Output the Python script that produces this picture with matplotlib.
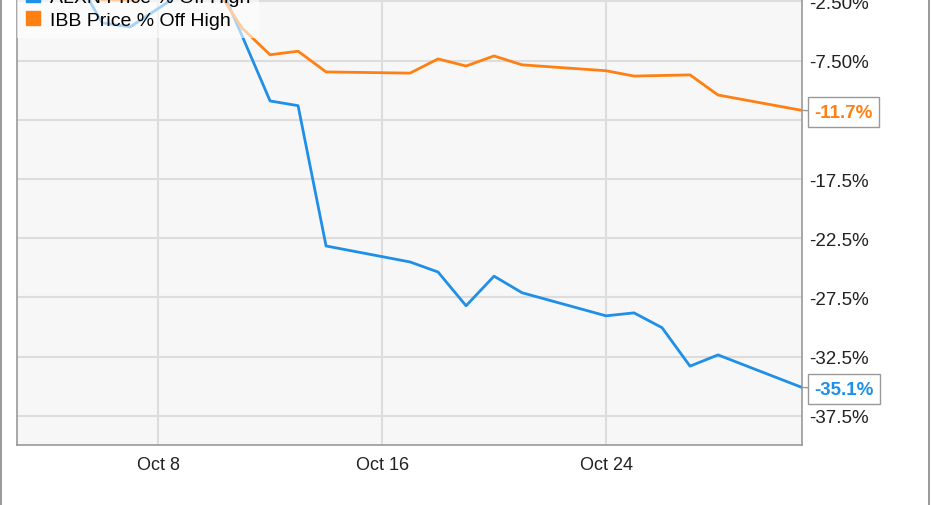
import matplotlib
matplotlib.use("Agg")
import matplotlib.pyplot as plt
import matplotlib.dates as mdates
import numpy as np
from matplotlib.lines import Line2D
from matplotlib.patches import Rectangle

plt.rcParams["font.family"] = ["Liberation Sans", "DejaVu Sans"]

# trading days, October 2016
dates = np.array([
    "2016-10-03", "2016-10-04", "2016-10-05", "2016-10-06", "2016-10-07",
    "2016-10-10", "2016-10-11", "2016-10-12", "2016-10-13", "2016-10-14",
    "2016-10-17", "2016-10-18", "2016-10-19", "2016-10-20", "2016-10-21",
    "2016-10-24", "2016-10-25", "2016-10-26", "2016-10-27", "2016-10-28",
    "2016-10-31",
], dtype="datetime64[D]")

blue_vals = [-1.2, -0.6, -0.2, -4.3, -4.65,
             0.0, -5.4, -10.9, -11.3, -23.15,
             -24.5, -25.35, -28.2, -25.7, -27.1,
             -29.05, -28.8, -30.05, -33.3, -32.35,
             -35.1]
orange_vals = [-1.0, -1.3, -1.2, -2.35, -2.4,
               -1.1, -4.75, -7.0, -6.7, -8.45,
               -8.55, -7.35, -7.95, -7.1, -7.85,
               -8.35, -8.8, -8.75, -8.7, -10.4,
               -11.7]

series_labels = ["ALXN Price % Off High", "IBB Price % Off High"]
series_colors = ["#1f8fe8", "#ff8012"]

y_ticks = [-2.5, -7.5, -12.5, -17.5, -22.5, -27.5, -32.5, -37.5]
y_tick_labels = ["-2.50%", "-7.50%", "-12.5%", "-17.5%", "-22.5%", "-27.5%", "-32.5%", "-37.5%"]
x_ticks = np.array(["2016-10-08", "2016-10-16", "2016-10-24"], dtype="datetime64[D]")
x_tick_labels = ["Oct 8", "Oct 16", "Oct 24"]

W, H = 931, 506
fig = plt.figure(figsize=(W / 100, H / 100), dpi=100)
ax = fig.add_axes([17 / W, 1 - 446 / H, (802 - 17) / W, 446 / H])
ax.set_facecolor("#f7f7f7")

xd = mdates.date2num(dates)
ax.plot(xd, blue_vals, color=series_colors[0], lw=2.0, zorder=3)
ax.plot(xd, orange_vals, color=series_colors[1], lw=2.0, zorder=3)

ax.set_xlim(mdates.date2num(np.datetime64("2016-10-08")) - 5.04,
            mdates.date2num(np.datetime64("2016-10-31")))
ax.set_ylim(-39.96, -2.29)

ax.set_xticks(mdates.date2num(x_ticks))
ax.set_xticklabels(x_tick_labels)
ax.set_yticks(y_ticks)
ax.set_yticklabels(y_tick_labels)
ax.yaxis.tick_right()
ax.tick_params(axis="both", length=0, labelcolor="#222222")
ax.tick_params(axis="x", pad=8, labelsize=13)
ax.tick_params(axis="y", pad=5, labelsize=13.5)
ax.grid(True, color="#dddddd", lw=1.5)
ax.set_axisbelow(True)

for side in ["left", "bottom", "right"]:
    ax.spines[side].set_color("#999999")
    ax.spines[side].set_linewidth(1.2)
ax.spines["top"].set_visible(False)

# end-of-line callouts (they hide the -12.5% tick label, as in the original)
for vals, col in zip([blue_vals, orange_vals], series_colors):
    ax.annotate(f"{vals[-1]:.1f}%", xy=(1.0, vals[-1]),
                xycoords=ax.get_yaxis_transform(),
                xytext=(9, -1.2), textcoords="offset points",
                ha="left", va="center", fontsize=13.5, fontweight="bold", color=col,
                bbox=dict(boxstyle="square,pad=0.33", fc="white", ec="#999999", lw=1.0),
                arrowprops=dict(arrowstyle="-", color="#999999", lw=1.0,
                                shrinkA=0, shrinkB=0),
                zorder=10, annotation_clip=False)

handles = [Line2D([], [], ls="none", marker="s", markersize=9.5,
                  markerfacecolor=c, markeredgecolor=c) for c in series_colors]
leg = ax.legend(handles, series_labels, loc="lower left",
                bbox_to_anchor=(0.0, 0.9126), fontsize=14,
                frameon=True, fancybox=False, framealpha=0.6,
                borderaxespad=0, borderpad=0.45, labelspacing=0.3,
                handlelength=0.7, handletextpad=0.55)
leg.get_frame().set_facecolor("white")
leg.get_frame().set_edgecolor("none")
leg.set_zorder(5)

# outer frame of the picture
fig.patches.append(Rectangle((1 / W, -0.01), 928 / W, 1.02, transform=fig.transFigure,
                             fill=False, ec="#888888", lw=1.2))

fig.savefig("out.png", dpi=100)
